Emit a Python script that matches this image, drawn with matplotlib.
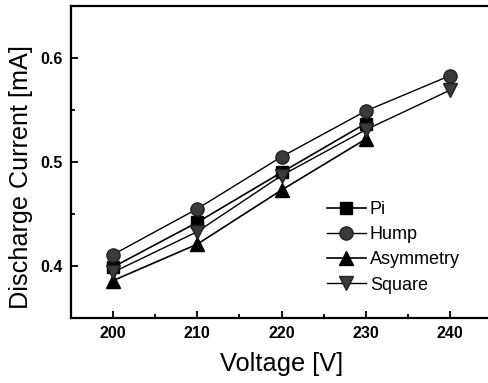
import matplotlib
matplotlib.use("Agg")
import matplotlib.pyplot as plt
from matplotlib.ticker import MultipleLocator

plt.rcParams['font.family'] = ['Liberation Sans', 'DejaVu Sans']

voltage = [200, 210, 220, 230, 240]
pi_x = [200, 210, 220, 230]
pi_y = [0.399, 0.442, 0.490, 0.537]
hump_x = [200, 210, 220, 230, 240]
hump_y = [0.411, 0.455, 0.505, 0.549, 0.583]
asym_x = [200, 210, 220, 230]
asym_y = [0.386, 0.421, 0.473, 0.522]
square_x = [200, 210, 220, 230, 240]
square_y = [0.394, 0.433, 0.487, 0.531, 0.569]

fig = plt.figure(figsize=(4.88, 3.83), dpi=100)
ax = fig.add_axes([71/488, 65/383, 421/488, 312/383])

ax.plot(pi_x, pi_y, '-', color='black', lw=1.2, marker='s', ms=8.5,
        mfc='black', mec='black', label='Pi')
ax.plot(hump_x, hump_y, '-', color='black', lw=1.0, marker='o', ms=9.5,
        mfc='#3a3a3a', mec='#222222', label='Hump')
ax.plot(asym_x, asym_y, '-', color='black', lw=1.2, marker='^', ms=10,
        mfc='black', mec='black', label='Asymmetry')
ax.plot(square_x, square_y, '-', color='black', lw=1.0, marker='v', ms=10,
        mfc='#3a3a3a', mec='#222222', label='Square')

ax.set_xlim(195, 245)
ax.set_ylim(0.35, 0.65)
ax.set_xticks(voltage)
ax.set_yticks([0.4, 0.5, 0.6])
ax.xaxis.set_minor_locator(MultipleLocator(5))
ax.yaxis.set_minor_locator(MultipleLocator(0.05))
ax.tick_params(which='both', direction='in', top=False, right=False, width=1.3)
ax.tick_params(which='major', length=5, labelsize=11.5, pad=6)
ax.tick_params(which='minor', length=3)
for lab in ax.get_xticklabels() + ax.get_yticklabels():
    lab.set_fontweight('bold')
for s in ax.spines.values():
    s.set_linewidth(1.6)

ax.set_xlabel('Voltage [V]', fontsize=18.3, labelpad=8)
ax.set_ylabel('Discharge Current [mA]', fontsize=18.2)
ax.yaxis.set_label_coords(-0.09, 0.452)

ax.legend(loc='lower left', bbox_to_anchor=(0.59, 0.055), frameon=False,
          fontsize=13, handlelength=2.2, handletextpad=0.2,
          labelspacing=0.45, borderaxespad=0)

fig.savefig('out.png', dpi=100)
